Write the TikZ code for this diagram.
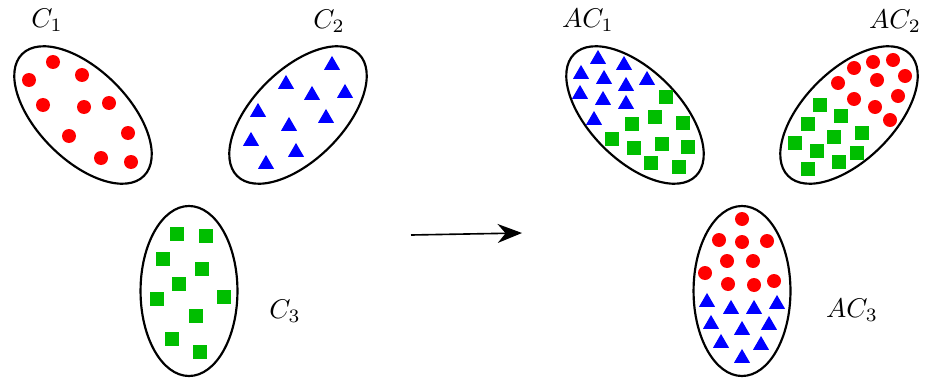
\documentclass[tikz,border=0pt]{standalone}
\usepackage{amsmath,amssymb}
\usepackage{tikz}
\usetikzlibrary{arrows.meta,positioning,shapes.geometric}
\definecolor{ptgreen}{RGB}{0,190,0}

\begin{document}
\begin{tikzpicture}[
  x=0.013cm, y=-0.013cm, >=Stealth,
  clus/.style={draw, thick, ellipse, inner sep=0pt},
  tilted/.style={clus, minimum width=2.24cm, minimum height=1.17cm},
  upright/.style={clus, minimum width=1.26cm, minimum height=2.21cm},
  dot/.style={circle, fill=red, inner sep=0pt, minimum size=0.182cm},
  tri/.style={regular polygon, regular polygon sides=3, fill=blue,
              inner sep=0pt, minimum size=0.24cm, yshift=-0.8pt},
  sqr/.style={rectangle, fill=ptgreen, inner sep=0pt, minimum size=0.182cm}
]
  \useasboundingbox (0,0) rectangle (928,381);

  % clusters before
  \node[tilted, rotate=-45] (c1) at (83,115) {};
  \node[tilted, rotate=45] (c2) at (298,115) {};
  \node[upright] (c3) at (189,291) {};
  \node (lc1) at (47,20) {$C_1$};
  \node (lc2) at (329,21) {$C_2$};
  \node (lc3) at (285,311) {$C_3$};

  \foreach \p [count=\i] in {(53,62),(29,80),(82,75),(43,105),(84,107),
      (109,103),(69,136),(128,133),(101,158),(131,162)}
    \node[dot] (c1p\i) at \p {};
  \foreach \p [count=\i] in {(332,63),(286,82),(312,93),(345,91),(258,110),
      (326,116),(289,124),(251,139),(296,150),(266,162)}
    \node[tri] (c2p\i) at \p {};
  \foreach \p [count=\i] in {(177,234),(206,236),(163,259),(202,269),(179,284),
      (157,299),(224,297),(196,316),(172,339),(200,352)}
    \node[sqr] (c3p\i) at \p {};

  % arrow
  \coordinate (from) at (411,235);
  \coordinate (to) at (522,233);
  \draw[-{Stealth[length=9pt, width=7pt]}, semithick] (from) -- (to);

  % clusters after
  \node[tilted, rotate=-45] (ac1) at (635,115) {};
  \node[tilted, rotate=45] (ac2) at (849,115) {};
  \node[upright] (ac3) at (742,291) {};
  \node (lac1) at (588,20) {$AC_1$};
  \node (lac2) at (895,21) {$AC_2$};
  \node (lac3) at (852,310) {$AC_3$};

  \foreach \p [count=\i] in {(598,57),(624,63),(581,72),(604,77),(626,84),
      (647,78),(580,92),(603,98),(626,102),(594,118)}
    \node[tri] (ac1t\i) at \p {};
  \foreach \p [count=\i] in {(666,97),(655,117),(632,124),(683,123),(612,139),
      (634,148),(662,144),(688,147),(651,163),(679,167)}
    \node[sqr] (ac1s\i) at \p {};

  \foreach \p [count=\i] in {(854,68),(873,62),(893,60),(838,83),(877,80),
      (905,76),(854,99),(898,96),(875,107),(890,120)}
    \node[dot] (ac2d\i) at \p {};
  \foreach \p [count=\i] in {(820,105),(841,116),(808,124),(862,133),(834,137),
      (795,143),(817,151),(857,153),(839,162),(808,169)}
    \node[sqr] (ac2s\i) at \p {};

  \foreach \p [count=\i] in {(742,219),(719,240),(742,242),(767,241),(727,261),
      (753,261),(705,273),(728,284),(754,285),(774,281)}
    \node[dot] (ac3d\i) at \p {};
  \foreach \p [count=\i] in {(707,300),(731,307),(754,307),(777,302),(711,322),
      (742,328),(769,323),(721,341),(761,343),(742,356)}
    \node[tri] (ac3t\i) at \p {};
\end{tikzpicture}
\end{document}
